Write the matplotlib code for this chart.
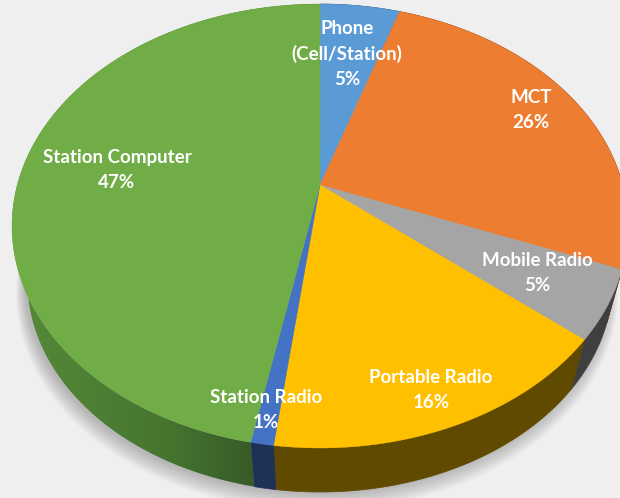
import matplotlib.pyplot as plt
import numpy as np
from matplotlib.colors import LinearSegmentedColormap
from matplotlib.patches import Polygon

# data
labels = ['Phone\n(Cell/Station)', 'MCT', 'Mobile Radio', 'Portable Radio',
          'Station Radio', 'Station Computer']
shares = [5, 26, 5, 16, 1, 47]
top_colors = ['#5B9BD5', '#ED7D31', '#A5A5A5', '#FFC000', '#4472C4', '#70AD47']
side_colors = ['#2d4f70', '#7a3e12', '#3f3f3f', '#5f4a00', '#1f3155', '#3d6427']

# layout (pixel space of the 620x498 picture)
label_xy = [(347, 54), (531, 110), (537, 273), (431, 390), (266, 410), (117, 170)]
cx, cy = 320, 185          # pie centre as seen in perspective
sx, sy = 302.7, 214.4      # horizontal / vertical radius scale
k = 0.1847                 # perspective foreshortening
shrink, drop = 0.95, 57.2  # bottom face: scaled about the centre, moved down


def project(frac, r=1.0, bottom=False):
    ang = 2 * np.pi * np.asarray(frac)
    x = r * np.sin(ang)
    y = r * np.cos(ang)
    d = 1 + k * y
    X = cx + sx * x / d
    Y = cy - sy * y / d
    if bottom:
        X = cx + (X - cx) * shrink
        Y = cy + (Y - cy) * shrink + drop
    return X, Y


def main():
    fig = plt.figure(figsize=(6.2, 4.98), dpi=100)
    ax = fig.add_axes([0, 0, 1, 1])
    ax.set_xlim(0, 620)
    ax.set_ylim(498, 0)
    ax.axis('off')

    # striped background
    plt.rcParams['hatch.linewidth'] = 2.0
    plt.rcParams['hatch.color'] = '#efefef'
    ax.fill_between([0, 620], 0, 498, facecolor='white', hatch='\\' * 14,
                    edgecolor='#efefef', linewidth=0, zorder=0)

    # soft shadow under the pie
    t = np.linspace(0, 1, 400)
    for i in range(10):
        X, Y = project(t, r=1.0 + 0.003 * i, bottom=True)
        ax.fill(X - 3, Y + 2 + 0.9 * i, color='#555555', alpha=0.04,
                linewidth=0, zorder=1)

    bounds = np.concatenate([[0], np.cumsum(shares)]) / sum(shares)

    # sides
    for i in range(len(shares)):
        seg = np.linspace(bounds[i], bounds[i + 1], 200)
        Xt, Yt = project(seg)
        Xb, Yb = project(seg, bottom=True)
        xy = np.column_stack([np.r_[Xt, Xb[::-1]], np.r_[Yt, Yb[::-1]]])
        if labels[i] == 'Station Computer':
            # lighter on the left, darker towards the front
            poly = Polygon(xy, closed=True, facecolor='none', edgecolor='none')
            ax.add_patch(poly)
            cmap = LinearSegmentedColormap.from_list(
                'side', ['#568a3a', '#467530', '#2c4820'])
            grad = np.linspace(0, 1, 256)[None, :]
            im = ax.imshow(grad, cmap=cmap, aspect='auto',
                           extent=(xy[:, 0].min(), xy[:, 0].max(),
                                   xy[:, 1].max(), xy[:, 1].min()),
                           zorder=2)
            im.set_clip_path(poly)
        else:
            ax.add_patch(Polygon(xy, closed=True, facecolor=side_colors[i],
                                 edgecolor=side_colors[i], linewidth=0.5,
                                 zorder=2))

    # top faces
    for i in range(len(shares)):
        seg = np.linspace(bounds[i], bounds[i + 1], 200)
        X, Y = project(seg)
        ax.fill(np.r_[cx, X], np.r_[cy, Y], color=top_colors[i],
                linewidth=0.3, edgecolor=top_colors[i], zorder=3)

    # labels
    for i, (lab, val) in enumerate(zip(labels, shares)):
        x, y = label_xy[i]
        ax.text(x, y, f'{lab}\n{val}%', ha='center', va='center',
                color='white', fontsize=13.5, fontweight='bold',
                family=['Lato', 'DejaVu Sans'], linespacing=1.55, zorder=4)

    ax.set_xlim(0, 620)
    ax.set_ylim(498, 0)
    fig.savefig('out.png', dpi=100)


if __name__ == '__main__':
    main()
